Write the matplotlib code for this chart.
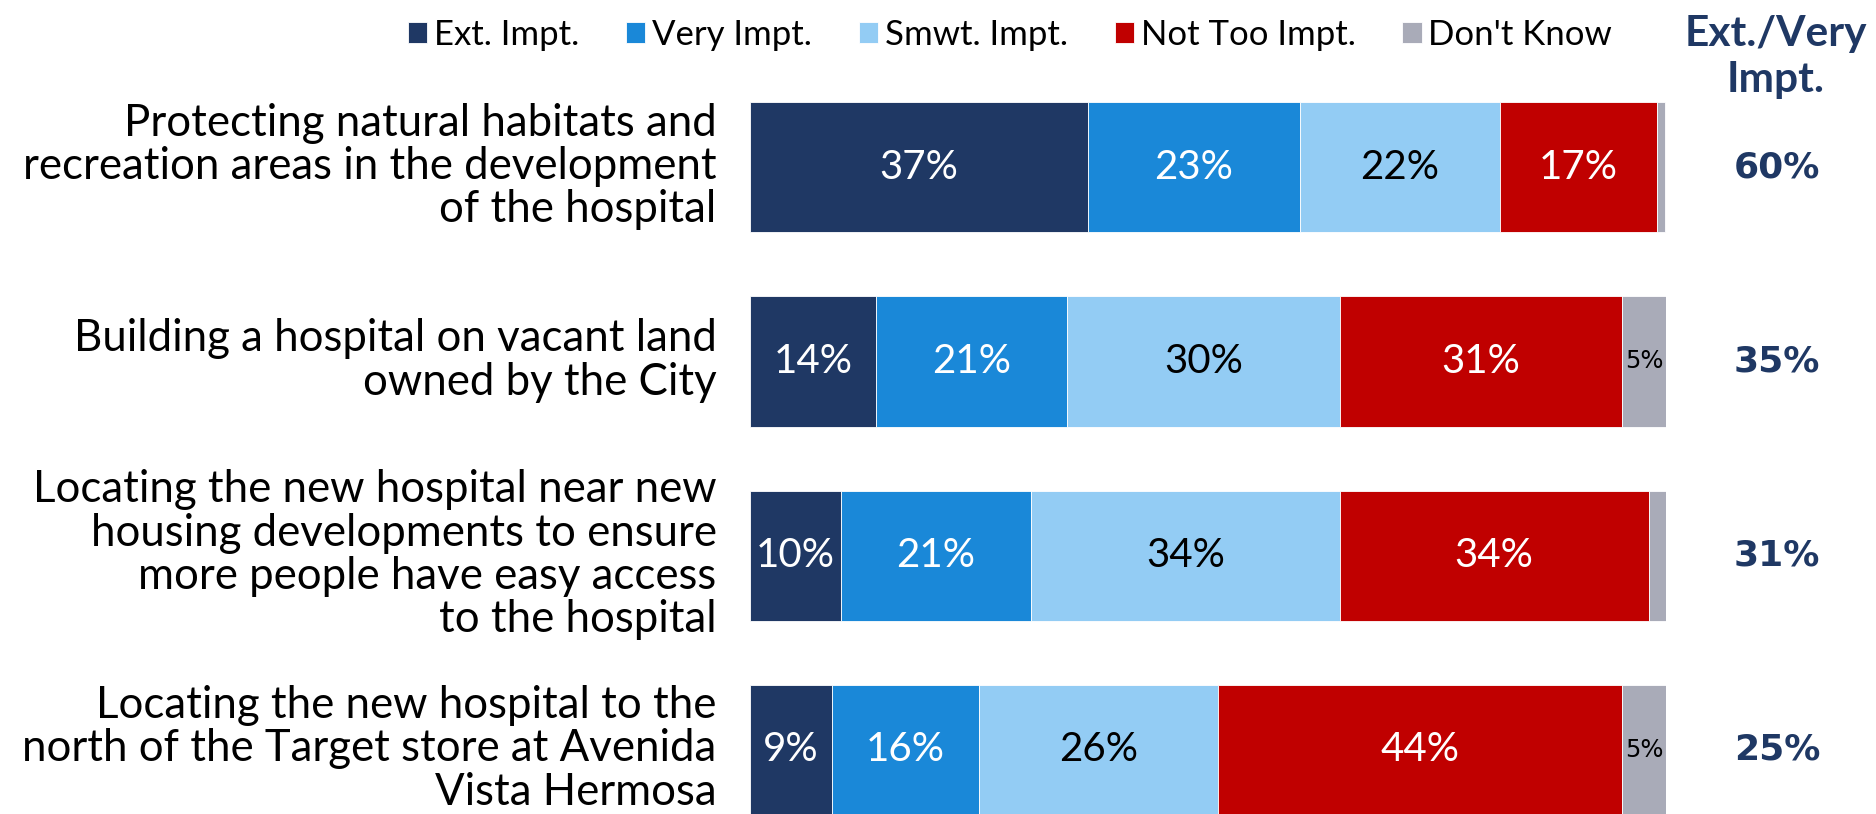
import matplotlib
matplotlib.use("Agg")
import matplotlib.pyplot as plt
import matplotlib.transforms as mtransforms
import numpy as np

# ------------------------------------------------------------
# Data (shares, % of respondents)
# ------------------------------------------------------------
categories = [
    "Protecting natural habitats and\nrecreation areas in the development\nof the hospital",
    "Building a hospital on vacant land\nowned by the City",
    "Locating the new hospital near new\nhousing developments to ensure\nmore people have easy access\nto the hospital",
    "Locating the new hospital to the\nnorth of the Target store at Avenida\nVista Hermosa",
]
series_names = ["Ext. Impt.", "Very Impt.", "Smwt. Impt.", "Not Too Impt.", "Don't Know"]

ext_impt     = [36.9, 13.8, 9.9, 8.9]
very_impt    = [23.1, 20.8, 20.8, 16.1]
smwt_impt    = [21.9, 29.8, 33.7, 26.1]
not_too_impt = [17.1, 30.8, 33.7, 44.1]
dont_know    = [0.9, 4.8, 2.0, 4.8]

colors      = ["#1F3864", "#1A88D8", "#93CCF4", "#C00000", "#A9ABB8"]
text_colors = ["white", "white", "black", "white", "black"]
navy = "#1F3864"

FONT = "Lato"

# ------------------------------------------------------------
# Plot
# ------------------------------------------------------------
W, H = 1876, 814
fig = plt.figure(figsize=(W / 100, H / 100), dpi=100)
ax = fig.add_axes([750 / W, 0, 916 / W, 1])

series = [ext_impt, very_impt, smwt_impt, not_too_impt, dont_know]
y = np.arange(len(categories))
left = np.zeros(len(categories))
handles = []
for k, vals in enumerate(series):
    vals = np.array(vals)
    bars = ax.barh(y, vals, left=left, height=0.67, color=colors[k],
                   edgecolor="white", linewidth=0.6, label=series_names[k])
    handles.append(bars)
    for i, v in enumerate(vals):
        cx = left[i] + v / 2
        if k < 4:
            ax.text(cx, y[i], f"{round(v)}%", ha="center", va="center",
                    color=text_colors[k], fontsize=29, family=FONT)
        elif v >= 4:
            ax.text(cx, y[i], f"{round(v)}%", ha="center", va="center",
                    color="black", fontsize=17.5, family="DejaVu Sans")
    left += vals

ax.set_xlim(0, 100)
ax.set_ylim(3.332, -0.863)
ax.set_xticks([])
ax.set_yticks(y, labels=categories)
ax.tick_params(axis="y", length=0, pad=24)
# nudge the category labels up a few pixels, as in the original
nudge = mtransforms.ScaledTranslation(0, 6 / 100, fig.dpi_scale_trans)
for lab in ax.get_yticklabels():
    lab.set_fontfamily(FONT)
    lab.set_fontsize(31.5)
    lab.set_linespacing(1.07)
    lab.set_transform(lab.get_transform() + nudge)
for s in ax.spines.values():
    s.set_visible(False)

# Ext./Very column
ext_very = [round(a) + round(b) for a, b in zip(ext_impt, very_impt)]
for i, tot in enumerate(ext_very):
    fig.text(1777 / W, 1 - (167.5 + 194 * i) / H, f"{tot}%", ha="center",
             va="center", color=navy, fontsize=26, fontweight="bold",
             family="DejaVu Sans")
fig.text(1776 / W, 1 - 57 / H, "Ext./Very\nImpt.", ha="center", va="center",
         color=navy, fontsize=30.5, fontweight="bold", family=FONT,
         linespacing=1.28)

fig.legend(handles=handles, labels=series_names, ncol=5, loc="center",
           bbox_to_anchor=(1010 / W, 1 - 35 / H), frameon=False,
           prop={"family": FONT, "size": 25}, handlelength=0.55,
           handleheight=0.55, handletextpad=0.2, columnspacing=1.35)

fig.savefig("out.png", dpi=100)
